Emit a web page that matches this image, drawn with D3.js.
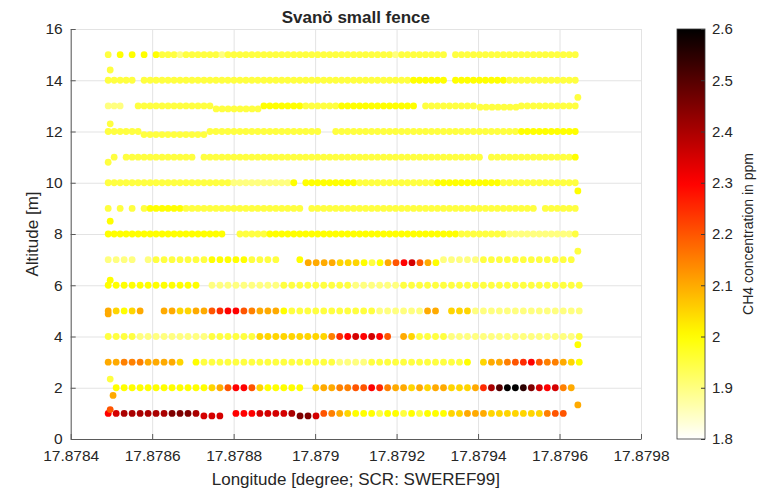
<!DOCTYPE html>
<html>
<head>
<meta charset="utf-8">
<script src="https://cdn.jsdelivr.net/npm/d3@7/dist/d3.min.js"></script>
<style>
    body { margin: 0; background: #fff; }
    text { font-family: "Liberation Sans", Arial, Helvetica, sans-serif; fill: #262626; }
</style>
</head>
<body>
<svg id="chart" width="757" height="494"></svg>
<script>
// one char per sample slot along a pass, ' ' = no sample
// code index i -> 1.80 + 0.05 * i ppm
var ppmCodes = '0123456789ABCDEFG';

// [altitude m, first longitude, longitude step, samples]
var passes = [
    [15, 17.878492, 0.0000147, '3 4 4 4 43' + '3323333332' + '3333333333' + '3333333333' + '3333333323' + '3333333' + ' ' + '33333333333' + '3333333333'],
    [14, 17.878492, 0.0000147, '33333 3333' + '3333333333' + '3333333333' + '3333333333' + '3333333333' + '3444444 44' + '4444444333' + '333333333'],
    [13, 17.878492, 0.0000147, '222  33333' + '33333333  ' + '      4444' + '4443333334' + '4444444444' + '44 3333333' + '33       3' + '333333333'],
    [12, 17.878492, 0.0000147, '333333    ' + '       333' + '3333333333' + '333333  33' + '3333333333' + '3333333333' + '3333333334' + '444444444'],
    [11, 17.878492, 0.0000147, ' 3 3333333' + '33333 3333' + '3333333333' + '3333333333' + '3333333333' + '3333333333' + '333 333333' + '333333334'],
    [10, 17.878492, 0.0000147, '3333333333' + '3333333333' + '3222222222' + '24 4444444' + '4433333333' + '3333344444' + '4444443333' + '333333333'],
    [9, 17.878492, 0.0000147, '3 3 3 3444' + '4443333333' + '3333333333' + '333 333333' + '3333333333' + '3333333333' + '3333333333' + '33 333333'],
    [8, 17.878492, 0.0000147, '4444444444' + '4444444444' + '  33333444' + '4444444444' + '4444444444' + '4444444443' + '3333333222' + '222222223'],
    [7, 17.878492, 0.0000196, '2222 23333' + '3334444433' + '33  4     ' + '          ' + '  22222333' + '333333333 '],
    [6, 17.878492, 0.0000196, '4444444444' + '44 2222222' + '2233333333' + '3222222333' + '3333333333' + '3333333333'],
    [5, 17.878492, 0.0000196, '65456  665' + '56689AA876' + '6643333333' + '3333222222' + '66 5552222' + '2222222222'],
    [4, 17.878492, 0.0000196, '3333222222' + '2223333335' + '5555555579' + 'ABABA8 653' + '3332222222' + '2222222223'],
    [3, 17.878492, 0.0000196, '6677766665' + ' 433333333' + '3333333332' + '2223333333' + '333334 566' + '789A877654'],
    [2, 17.878492, 0.0000196, ' 444444444' + '444568AA85' + '44444 5667' + '788A976656' + '56655569CE' + 'GGFDBAB76 '],
    [1, 17.878492, 0.0000196, 'ABCCCCCCDD' + 'DC    AAAB' + 'BBBC   876' + '5444344343' + '4445566655' + '55555788  '],
    // short stretches flown a little off the nominal altitude
    [12.88, 17.878757, 0.0000147, '33333333'],
    [12.95, 17.879405, 0.0000147, '3333333'],
    [11.88, 17.878580, 0.0000147, '33333333333'],
    [6.88, 17.878983, 0.0000196, '666655543468AB864'],
    [0.9, 17.878727, 0.0000196, 'BBB'],
    [0.9, 17.878963, 0.0000196, 'DDB']
];

// single samples at the turns: [altitude, longitude, code]
var turnPoints = [
    [14.4, 17.878497, '3'], [13.33, 17.879645, '3'], [12.3, 17.878497, '3'],
    [10.8, 17.878492, '3'], [9.68, 17.879645, '4'], [8.5, 17.878497, '4'],
    [7.33, 17.879645, '3'], [6.2, 17.878497, '4'], [4.88, 17.878492, '6'],
    [3.68, 17.879645, '4'], [2.34, 17.878497, '3'], [1.7, 17.878504, '6'],
    [1.15, 17.878497, '8'], [1.33, 17.879645, '6']
];

var xTicks = [17.8784, 17.8786, 17.8788, 17.879, 17.8792, 17.8794, 17.8796, 17.8798];
var yTicks = [0, 2, 4, 6, 8, 10, 12, 14, 16];
var cTicks = [1.8, 1.9, 2, 2.1, 2.2, 2.3, 2.4, 2.5, 2.6];

var plotLeft = 70.7, plotRight = 641, plotTop = 29, plotBottom = 439;

var svg = d3.select('#chart');

var x = d3.scaleLinear().domain([17.8784, 17.8798]).range([plotLeft, plotRight]);
var y = d3.scaleLinear().domain([0, 16]).range([plotBottom, plotTop]);
var cy = d3.scaleLinear().domain([1.8, 2.6]).range([plotBottom, plotTop]);

// flipped "hot" map: white -> yellow -> red -> black
var color = d3.scaleLinear()
    .domain([1.8, 2.0, 2.3, 2.6])
    .range(['#ffffff', '#ffff00', '#ff0000', '#000000'])
    .clamp(true);

function ppm(code) {
    return 1.8 + 0.05 * ppmCodes.indexOf(code);
}

var points = [];
passes.forEach(function (p) {
    for (var i = 0; i < p[3].length; i++) {
        if (p[3][i] === ' ') continue;
        points.push({ alt: p[0], lon: p[1] + i * p[2], ppm: ppm(p[3][i]) });
    }
});
turnPoints.forEach(function (t) {
    points.push({ alt: t[0], lon: t[1], ppm: ppm(t[2]) });
});

// grid
svg.append('g')
    .attr('transform', `translate(0,${plotBottom})`)
    .call(d3.axisBottom(x).tickValues(xTicks).tickSize(-(plotBottom - plotTop)).tickFormat(''))
    .call(function (g) {
        g.select('.domain').remove();
        g.selectAll('line').attr('stroke', '#e3e3e3');
    });
svg.append('g')
    .attr('transform', `translate(${plotLeft},0)`)
    .call(d3.axisLeft(y).tickValues(yTicks).tickSize(-(plotRight - plotLeft)).tickFormat(''))
    .call(function (g) {
        g.select('.domain').remove();
        g.selectAll('line').attr('stroke', '#e3e3e3');
    });

svg.append('g')
    .selectAll('circle')
    .data(points)
    .join('circle')
    .attr('cx', function (d) { return x(d.lon); })
    .attr('cy', function (d) { return y(d.alt); })
    .attr('r', 3.4)
    .attr('fill', function (d) { return color(d.ppm); });

// axes
var xAxis = svg.append('g')
    .attr('transform', `translate(0,${plotBottom})`)
    .call(d3.axisBottom(x).tickValues(xTicks).tickSizeInner(-5).tickSizeOuter(0).tickPadding(11)
        .tickFormat(function (d) { return String(+d.toFixed(4)); }));
var yAxis = svg.append('g')
    .attr('transform', `translate(${plotLeft},0)`)
    .call(d3.axisLeft(y).tickValues(yTicks).tickSizeInner(-5).tickSizeOuter(0).tickPadding(8));

[xAxis, yAxis].forEach(function (g) {
    g.select('.domain').attr('stroke', '#5a5a5a');
    g.selectAll('.tick line').attr('stroke', '#5a5a5a');
    g.selectAll('text').attr('font-size', 15.5).attr('fill', '#262626')
        .style('font-family', '"Liberation Sans", Arial, sans-serif');
});

svg.append('text')
    .text('Svanö small fence')
    .attr('x', (plotLeft + plotRight) / 2)
    .attr('y', 23)
    .attr('text-anchor', 'middle')
    .attr('font-size', 17)
    .attr('font-weight', 'bold')
    .attr('fill', '#111');

svg.append('text')
    .text('Longitude [degree; SCR: SWEREF99]')
    .attr('x', (plotLeft + plotRight) / 2)
    .attr('y', 485)
    .attr('text-anchor', 'middle')
    .attr('font-size', 17);

svg.append('text')
    .text('Altitude [m]')
    .attr('transform', `translate(38,${(plotTop + plotBottom) / 2}) rotate(-90)`)
    .attr('text-anchor', 'middle')
    .attr('font-size', 17);

// colorbar
var grad = svg.append('defs').append('linearGradient')
    .attr('id', 'cbar')
    .attr('x1', 0).attr('y1', 1).attr('x2', 0).attr('y2', 0);
grad.selectAll('stop')
    .data(d3.range(0, 1.0001, 0.02))
    .join('stop')
    .attr('offset', function (t) { return t; })
    .attr('stop-color', function (t) { return color(1.8 + 0.8 * t); });

var cbLeft = 677, cbRight = 705;
svg.append('rect')
    .attr('x', cbLeft)
    .attr('y', plotTop)
    .attr('width', cbRight - cbLeft)
    .attr('height', plotBottom - plotTop)
    .attr('fill', 'url(#cbar)')
    .attr('stroke', '#3a3a3a')
    .attr('stroke-width', 0.8);

svg.append('g')
    .attr('transform', `translate(${cbRight},0)`)
    .call(d3.axisRight(cy).tickValues(cTicks).tickSizeInner(-4).tickSizeOuter(0).tickPadding(7)
        .tickFormat(function (d) { return String(+d.toFixed(1)); }))
    .call(function (g) {
        g.select('.domain').remove();
        g.selectAll('.tick line').attr('stroke', '#3a3a3a');
        g.selectAll('text').attr('font-size', 15).attr('fill', '#262626')
            .style('font-family', '"Liberation Sans", Arial, sans-serif');
    });

svg.append('text')
    .text('CH4  concentration in ppm')
    .attr('transform', `translate(753,${(plotTop + plotBottom) / 2}) rotate(-90)`)
    .attr('text-anchor', 'middle')
    .attr('font-size', 14);
</script>
</body>
</html>
